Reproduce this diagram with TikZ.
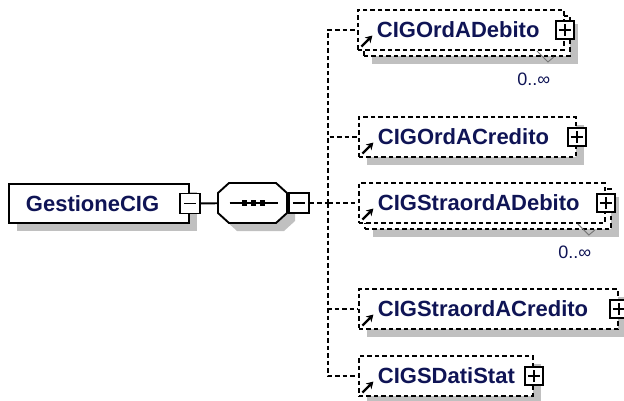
\documentclass[tikz,border=0pt]{standalone}
\usepackage{fontspec}
\setmainfont{Liberation Sans}
\usepackage{tikz}
\usetikzlibrary{shadows,arrows.meta}
\definecolor{name_blue}{RGB}{15,20,85}
\definecolor{shade_gray}{RGB}{192,192,192}
\definecolor{mark_gray}{RGB}{120,120,120}
\newcommand\elfont{\fontsize{22}{26}\selectfont\bfseries}
\newcommand\occfont{\fontsize{18}{20}\selectfont}
\newcommand\octagon{+(-34.5pt,10pt) -- +(-23.5pt,20pt) -- +(23.5pt,20pt) -- +(34.5pt,10pt)
  -- +(34.5pt,-10pt) -- +(23.5pt,-20pt) -- +(-23.5pt,-20pt) -- +(-34.5pt,-10pt) -- cycle}

\begin{document}
\begin{tikzpicture}[x=1pt,y=-1pt,line width=1.9pt]
    \tikzstyle{dashbox}=[dash pattern=on 4.5pt off 3pt]
    \tikzstyle{boxshadow}=[drop shadow={shadow xshift=8pt,shadow yshift=-8pt,opacity=1,fill=shade_gray}]
    \tikzstyle{rootbox}=[draw,fill=white,boxshadow,anchor=west,minimum height=39pt,inner xsep=17pt,inner ysep=0pt,text width=146pt,align=left,font=\elfont,text=name_blue]
    \tikzstyle{elembase}=[draw,fill=white,dashbox,anchor=west,minimum height=40pt,inner xsep=19pt,inner ysep=0pt,align=left,font=\elfont,text=name_blue,
      path picture={\draw[solid,line width=2.4pt,-{Stealth[length=7pt,width=8pt]}] ([shift={(3.5pt,3.5pt)}]path picture bounding box.south west) -- ++(11pt,11pt);}]
    \tikzstyle{element}=[elembase,boxshadow]
    \tikzstyle{elemmulti}=[elembase,
      drop shadow={shadow xshift=14pt,shadow yshift=-14pt,opacity=1,fill=shade_gray},
      copy shadow={shadow xshift=6pt,shadow yshift=-6pt,draw,fill=white,dash pattern=on 4.5pt off 3pt,line width=1.9pt}]
    \tikzstyle{plusbox}=[draw,fill=white,solid,minimum size=18pt,inner sep=0pt,
      path picture={\draw (path picture bounding box.center) +(-6pt,0) -- +(6pt,0) +(0,-6pt) -- +(0,6pt);}]
    \tikzstyle{minusbox}=[draw,fill=white,solid,minimum size=20pt,inner sep=0pt,
      path picture={\draw (path picture bounding box.center) +(-6pt,0) -- +(6pt,0);}]
    \tikzstyle{seqoutline}=[draw,fill=white,solid]
    \tikzstyle{seqshade}=[fill=shade_gray]
    \tikzstyle{seqbox}=[minimum width=69pt,minimum height=40pt,inner sep=0pt,
      path picture={\draw (path picture bounding box.center) +(-23pt,0) -- +(25pt,0);
        \foreach \dx in {-8,1,10} \fill (path picture bounding box.center) +(\dx pt-2.8pt,-2.8pt) rectangle +(\dx pt+2.8pt,2.8pt);}]
    \tikzstyle{conn}=[draw,dashbox,to path={|- (\tikztotarget)}]
    \tikzstyle{occ}=[font=\occfont,text=name_blue,inner sep=0pt]
    \tikzstyle{vmark}=[draw=mark_gray,line width=1pt]

    \useasboundingbox (0,0) rectangle (624,401);

    \node[rootbox]                  (gest)      at (8,203.5) {GestioneCIG};
    \node[minusbox]                 (gestminus) at (gest.east) {};

    % sequence
    \coordinate (seqc) at (252.5,203);
    \path[seqshade] ([shift={(8pt,-8pt)}]seqc) \octagon;
    \path[seqoutline] (seqc) \octagon;
    \node[seqbox]                   (seq)       at (seqc) {};
    \node[minusbox,anchor=west]     (seqminus)  at (seq.east) {};
    \coordinate                     (fork)      at (328,203);

    \node[elemmulti,text width=168pt] (ordadeb)   at (357,30)  {CIGOrdADebito};
    \node[element,text width=179pt]   (ordacred)  at (358,137) {CIGOrdACredito};
    \node[elemmulti,text width=208pt] (straadeb)  at (358,203) {CIGStraordADebito};
    \node[element,text width=221pt]   (straacred) at (358,309) {CIGStraordACredito};
    \node[element,text width=136pt]   (datistat)  at (358,376) {CIGSDatiStat};

    \node[plusbox] (ordadebplus)   at (ordadeb.east)   {};
    \node[plusbox] (ordacredplus)  at (ordacred.east)  {};
    \node[plusbox] (straadebplus)  at (straadeb.east)  {};
    \node[plusbox] (straacredplus) at (straacred.east) {};
    \node[plusbox] (datistatplus)  at (datistat.east)  {};

    % occurrences
    \node[occ] (ordadebocc)  at ([shift={(-31pt,-28pt)}]ordadeb.south east)  {0..∞};
    \node[occ] (straadebocc) at ([shift={(-31pt,-28pt)}]straadeb.south east) {0..∞};
    \draw[vmark] ([xshift=-28pt]ordadeb.south east) -- ++(11pt,-11pt) -- ++(6pt,5pt);
    \draw[vmark] ([xshift=-28pt]straadeb.south east) -- ++(11pt,-11pt) -- ++(6pt,5pt);

    \draw (gestminus) -- (seq);
    \draw[dashbox] (seqminus) -- (fork);
    \path[conn]
     (fork) edge (ordadeb)
     (fork) edge (ordacred)
     (fork) edge (straadeb)
     (fork) edge (straacred)
     (fork) edge (datistat);
\end{tikzpicture}
\end{document}
